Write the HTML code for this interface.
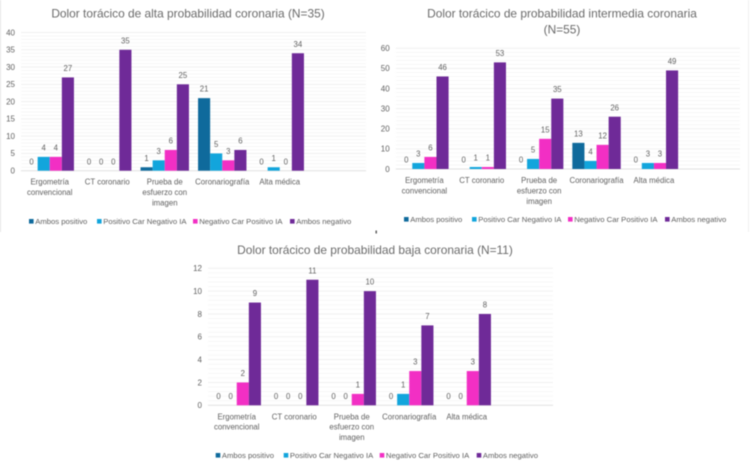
<!DOCTYPE html>
<html lang="es">
<head>
<meta charset="utf-8">
<title>Dolor torácico</title>
<style>
html,body{margin:0;padding:0;background:#fff;width:750px;height:469px;overflow:hidden}
svg{display:block;filter:blur(.45px)}
text{font-family:"Liberation Sans",sans-serif;fill:#606060}
</style>
</head>
<body>
<svg id="figure" width="750" height="469" viewBox="0 0 750 469" xmlns="http://www.w3.org/2000/svg">
  <rect x="0" y="0" width="1" height="232" fill="#e4e4e4"/>
  <rect x="748" y="0" width="1" height="232" fill="#f0f0f0"/>
  <rect x="375.5" y="230.5" width="1.4" height="3" fill="#555555"/>
</svg>
<script>
var categories = [["Ergometría","convencional"],["CT coronario"],["Prueba de","esfuerzo con","imagen"],["Coronariografía"],["Alta médica"]];
var seriesNames = ["Ambos positivo","Positivo Car Negativo IA","Negativo Car Positivo IA","Ambos negativo"];
var seriesColors = ["#0f6a9c","#12a5dc","#f22fc4","#6f2a98"];

var altaAmbosPositivo = [0,0,1,21,0];
var altaPositivoCar = [4,0,3,5,1];
var altaNegativoCar = [4,0,6,3,0];
var altaAmbosNegativo = [27,35,25,6,34];
var altaTicks = [0,5,10,15,20,25,30,35,40];

var mediaAmbosPositivo = [0,0,0,13,0];
var mediaPositivoCar = [3,1,5,4,3];
var mediaNegativoCar = [6,1,15,12,3];
var mediaAmbosNegativo = [46,53,35,26,49];
var mediaTicks = [0,10,20,30,40,50,60];

var bajaAmbosPositivo = [0,0,0,0,0];
var bajaPositivoCar = [0,0,0,1,0];
var bajaNegativoCar = [2,0,1,3,3];
var bajaAmbosNegativo = [9,11,10,7,8];
var bajaTicks = [0,2,4,6,8,10,12];

var NS = "http://www.w3.org/2000/svg";
var figure = document.getElementById("figure");

function make(parent, tag, attrs, content) {
  var el = document.createElementNS(NS, tag);
  for (var k in attrs) { el.setAttribute(k, attrs[k]); }
  if (content !== undefined) { el.textContent = content; }
  parent.appendChild(el);
  return el;
}

function drawChart(cfg) {
  var group = make(figure, "g", {});
  
  

  var plotH = cfg.y0 - cfg.yTop;
  var maxTick = cfg.ticks[cfg.ticks.length - 1];
  function yScale(v) { return cfg.y0 - v / maxTick * plotH; }
  var slots = categories.length + 1;
  var band = (cfg.x1 - cfg.x0) / slots;
  var barW = 12.1;
  function xScale(c, s) { return cfg.x0 + c * band + (band - 4 * barW) / 2 + s * barW; }

  cfg.title.forEach(function (line, i) {
    var t = make(group, "text", {x: cfg.titleX, y: cfg.titleY + i * 16, "text-anchor": "middle", "font-size": 11.9, style: "fill:#6a6a6a"}, line);
    
    
  });

  var step = cfg.ticks[1] - cfg.ticks[0];
  for (var i = 0; i < cfg.ticks.length - 1; i++) {
    for (var m = 1; m < 5; m++) {
      var my = yScale(cfg.ticks[i] + step * m / 5);
      var minor = make(group, "line", {x1: cfg.x0, x2: cfg.x1, y1: my, y2: my, stroke: "#f7f7f7", "stroke-width": 1});
      
      
    }
  }

  cfg.ticks.forEach(function (tick) {
    var yy = yScale(tick);
    var grid = make(group, "line", {x1: cfg.x0, x2: cfg.x1, y1: yy, y2: yy, stroke: tick === 0 ? "#e0e0e0" : "#f0f0f0", "stroke-width": 1});
    
    
    var lab = make(group, "text", {x: cfg.x0 - 6, y: yy + 2.8, "text-anchor": "end", "font-size": 8}, tick);
    
    
  });

  cfg.series.forEach(function (values, s) {
    values.forEach(function (v, c) {
      var top = yScale(v);
      var bar = make(group, "rect", {x: xScale(c, s), y: top, width: barW, height: cfg.y0 - top, fill: seriesColors[s]});
      
      
      var val = make(group, "text", {x: xScale(c, s) + barW / 2, y: top - 6.4, "text-anchor": "middle", "font-size": 7.8}, v);
      
      
    });
  });

  categories.forEach(function (lines, c) {
    var cx = cfg.x0 + c * band + band / 2;
    lines.forEach(function (line, i) {
      var cat = make(group, "text", {x: cx, y: cfg.y0 + 14 + i * 10.4, "text-anchor": "middle", "font-size": 7.8}, line);
      
      
    });
  });

  var legendOffsets = [0, 68, 164, 261];
  seriesNames.forEach(function (name, s) {
    var lx = cfg.legendX + legendOffsets[s];
    var sw = make(group, "rect", {x: lx, y: cfg.legendY - 5, width: 4.6, height: 4.6, fill: seriesColors[s]});
    
    
    var lt = make(group, "text", {x: lx + 6.2, y: cfg.legendY, "font-size": 7.7}, name);
    
    
  });
}

drawChart({
  name: "chart-alta-probabilidad",
  title: ["Dolor torácico de alta probabilidad coronaria (N=35)"],
  titleX: 188, titleY: 17.5,
  x0: 21, x1: 366, y0: 170.7, yTop: 32.5,
  ticks: altaTicks,
  series: [altaAmbosPositivo, altaPositivoCar, altaNegativoCar, altaAmbosNegativo],
  legendX: 29, legendY: 224
});
drawChart({
  name: "chart-intermedia-probabilidad",
  title: ["Dolor torácico de probabilidad intermedia coronaria", "(N=55)"],
  titleX: 562, titleY: 17.5,
  x0: 395.7, x1: 740, y0: 169, yTop: 48.3,
  ticks: mediaTicks,
  series: [mediaAmbosPositivo, mediaPositivoCar, mediaNegativoCar, mediaAmbosNegativo],
  legendX: 404, legendY: 222
});
drawChart({
  name: "chart-baja-probabilidad",
  title: ["Dolor torácico de probabilidad baja coronaria (N=11)"],
  titleX: 375, titleY: 254,
  x0: 208, x1: 553, y0: 405.3, yTop: 268.3,
  ticks: bajaTicks,
  series: [bajaAmbosPositivo, bajaPositivoCar, bajaNegativoCar, bajaAmbosNegativo],
  legendX: 215.7, legendY: 458
});
</script>
</body>
</html>
